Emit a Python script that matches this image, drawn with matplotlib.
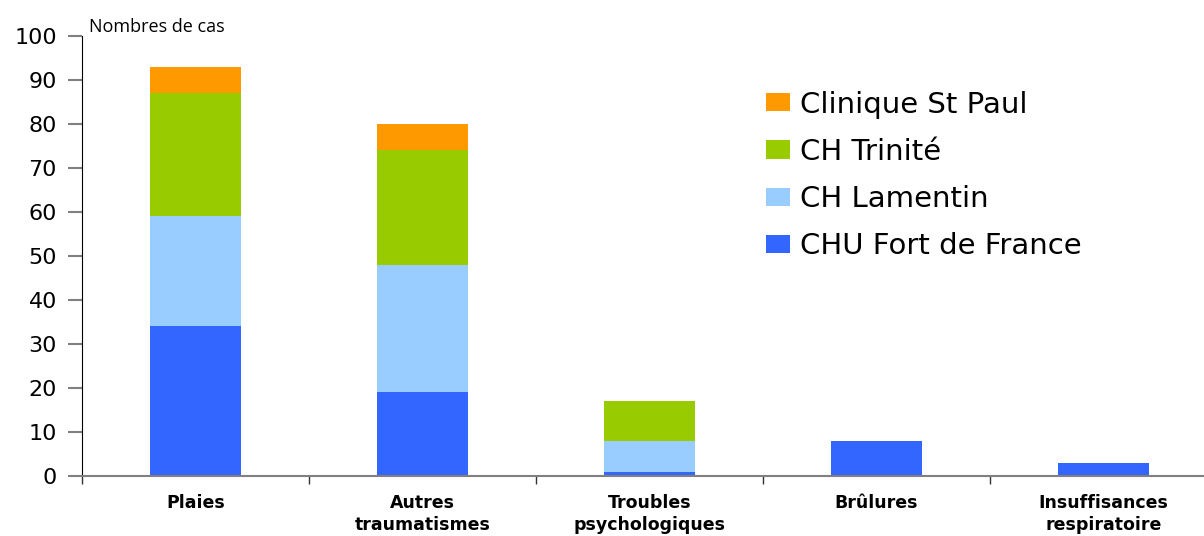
import numpy as np
import matplotlib
matplotlib.use("Agg")
import matplotlib.pyplot as plt

# Data
categories = ["Plaies", "Autres\ntraumatismes", "Troubles\npsychologiques",
              "Brûlures", "Insuffisances\nrespiratoire"]
chu_fdf = [34, 19, 1, 8, 3]
ch_lamentin = [25, 29, 7, 0, 0]
ch_trinite = [28, 26, 9, 0, 0]
clinique_st_paul = [6, 6, 0, 0, 0]

series = [
    ("CHU Fort de France", chu_fdf, "#3366FF"),
    ("CH Lamentin", ch_lamentin, "#99CCFF"),
    ("CH Trinité", ch_trinite, "#99CC00"),
    ("Clinique St Paul", clinique_st_paul, "#FF9900"),
]

fig = plt.figure(figsize=(12.04, 5.36), dpi=100)
ax = fig.add_axes([0.0681, 0.1119, 0.9427, 0.8209])

x = np.arange(len(categories))
bottom = np.zeros(len(categories))
handles = []
for name, vals, color in series:
    vals = np.array(vals, dtype=float)
    b = ax.bar(x, vals, bottom=bottom, width=0.405, color=color, label=name, zorder=2)
    handles.append(b)
    bottom += vals

ax.set_xlim(-0.5, len(categories) - 0.5)
ax.set_ylim(0, 100)
ax.set_yticks(range(0, 101, 10))
ax.tick_params(axis="y", direction="out", length=10, width=1.5, color="#808080",
               labelsize=16, labelcolor="black", pad=8)
for lbl in ax.get_yticklabels():
    lbl.set_family("DejaVu Sans")

ax.set_xticks(x)
ax.set_xticklabels(categories, fontsize=12.5, fontweight="bold", family="DejaVu Sans",
                   linespacing=1.3, va="top")
ax.tick_params(axis="x", which="major", length=0, pad=13)
ax.set_xticks(np.arange(-0.5, len(categories), 1.0), minor=True)
ax.tick_params(axis="x", which="minor", direction="out", length=6, width=1, color="#333333")

ax.spines["top"].set_visible(False)
ax.spines["right"].set_visible(False)
ax.spines["left"].set_color("black")
ax.spines["bottom"].set_color("#808080")
ax.spines["bottom"].set_linewidth(1.5)

ax.text(0.006, 1.0, "Nombres de cas", transform=ax.transAxes, ha="left", va="bottom",
        fontsize=13, family="Open Sans", color="black")

leg = ax.legend(handles[::-1], [s[0] for s in series][::-1], loc="upper left",
                bbox_to_anchor=(0.603, 0.876), frameon=False, borderpad=0,
                borderaxespad=0,
                prop={"family": "DejaVu Sans", "size": 21},
                handlelength=0.8, handleheight=0.58, handletextpad=0.36,
                labelspacing=0.66)

plt.savefig("out.png", dpi=100, facecolor="white")
